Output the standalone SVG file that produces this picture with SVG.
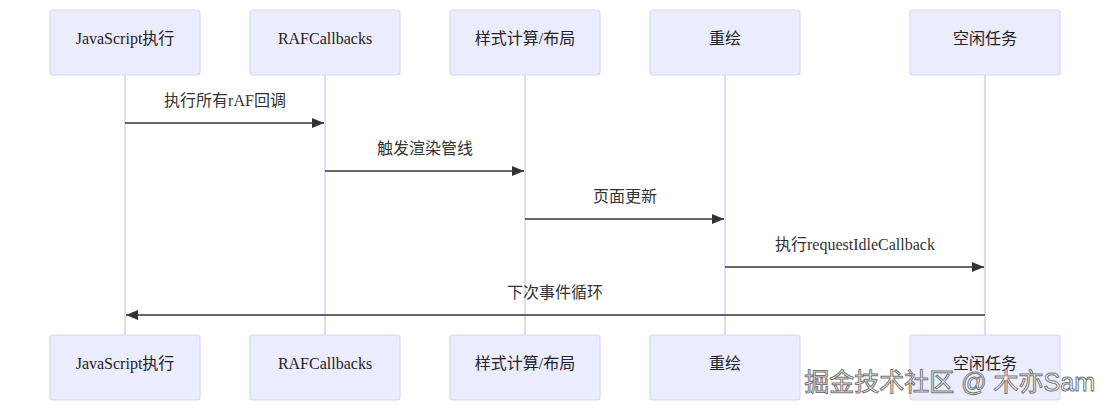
<svg xmlns="http://www.w3.org/2000/svg" width="1110" height="411" viewBox="0 0 1110 411">
<defs>
<style>
.actor{fill:#ECECFF;stroke:#D9D6F5;stroke-width:1.2}
.life{stroke:#D3D0EE;stroke-width:1.5}
.atext{font-family:"Liberation Serif","Noto Sans CJK SC",serif;font-size:16px;fill:#222;text-anchor:middle;dominant-baseline:central}
.msg{stroke:#333;stroke-width:1.5;fill:none}
.mtext{font-family:"Liberation Serif","Noto Sans CJK SC",serif;font-size:16px;fill:#333;text-anchor:middle}
.wm{font-family:"Liberation Sans","Noto Sans CJK SC",sans-serif;font-size:25px;fill:#fff;stroke:#777;stroke-width:1;text-anchor:end}
</style>
<marker id="ah" viewBox="0 0 12 10" refX="12" refY="5" markerWidth="12" markerHeight="10" markerUnits="userSpaceOnUse" orient="auto">
<path d="M0,0 L12,5 L0,10 z" fill="#333"/>
</marker>
</defs>
<rect width="1110" height="411" fill="#fff"/>
<g id="lifelines">
<line class="life" x1="125" y1="75" x2="125" y2="335"/>
<line class="life" x1="325" y1="75" x2="325" y2="335"/>
<line class="life" x1="525" y1="75" x2="525" y2="335"/>
<line class="life" x1="725" y1="75" x2="725" y2="335"/>
<line class="life" x1="985" y1="75" x2="985" y2="335"/>
</g>
<g id="actor-js"><rect class="actor" x="50" y="10" width="150" height="65" rx="3"/><text class="atext" x="125" y="38">JavaScript执行</text></g>
<g id="actor-raf"><rect class="actor" x="250" y="10" width="150" height="65" rx="3"/><text class="atext" x="325" y="38">RAFCallbacks</text></g>
<g id="actor-style"><rect class="actor" x="450" y="10" width="150" height="65" rx="3"/><text class="atext" x="525" y="38">样式计算/布局</text></g>
<g id="actor-paint"><rect class="actor" x="650" y="10" width="150" height="65" rx="3"/><text class="atext" x="725" y="38">重绘</text></g>
<g id="actor-idle"><rect class="actor" x="910" y="10" width="150" height="65" rx="3"/><text class="atext" x="985" y="38">空闲任务</text></g>
<g id="actor-js-bottom"><rect class="actor" x="50" y="335" width="150" height="65" rx="3"/><text class="atext" x="125" y="363">JavaScript执行</text></g>
<g id="actor-raf-bottom"><rect class="actor" x="250" y="335" width="150" height="65" rx="3"/><text class="atext" x="325" y="363">RAFCallbacks</text></g>
<g id="actor-style-bottom"><rect class="actor" x="450" y="335" width="150" height="65" rx="3"/><text class="atext" x="525" y="363">样式计算/布局</text></g>
<g id="actor-paint-bottom"><rect class="actor" x="650" y="335" width="150" height="65" rx="3"/><text class="atext" x="725" y="363">重绘</text></g>
<g id="actor-idle-bottom"><rect class="actor" x="910" y="335" width="150" height="65" rx="3"/><text class="atext" x="985" y="363">空闲任务</text></g>
<g id="connectors">
<line class="msg" x1="125" y1="123" x2="324" y2="123" marker-end="url(#ah)"/>
<text class="mtext" x="225" y="106">执行所有rAF回调</text>
<line class="msg" x1="325" y1="171" x2="524" y2="171" marker-end="url(#ah)"/>
<text class="mtext" x="425" y="154">触发渲染管线</text>
<line class="msg" x1="525" y1="219" x2="724" y2="219" marker-end="url(#ah)"/>
<text class="mtext" x="625" y="202">页面更新</text>
<line class="msg" x1="725" y1="267" x2="984" y2="267" marker-end="url(#ah)"/>
<text class="mtext" x="855" y="250">执行requestIdleCallback</text>
<line class="msg" x1="985" y1="315" x2="126" y2="315" marker-end="url(#ah)"/>
<text class="mtext" x="555" y="298">下次事件循环</text>
</g>
<text class="wm" x="1095" y="391">掘金技术社区 @ 木亦Sam</text>
</svg>
